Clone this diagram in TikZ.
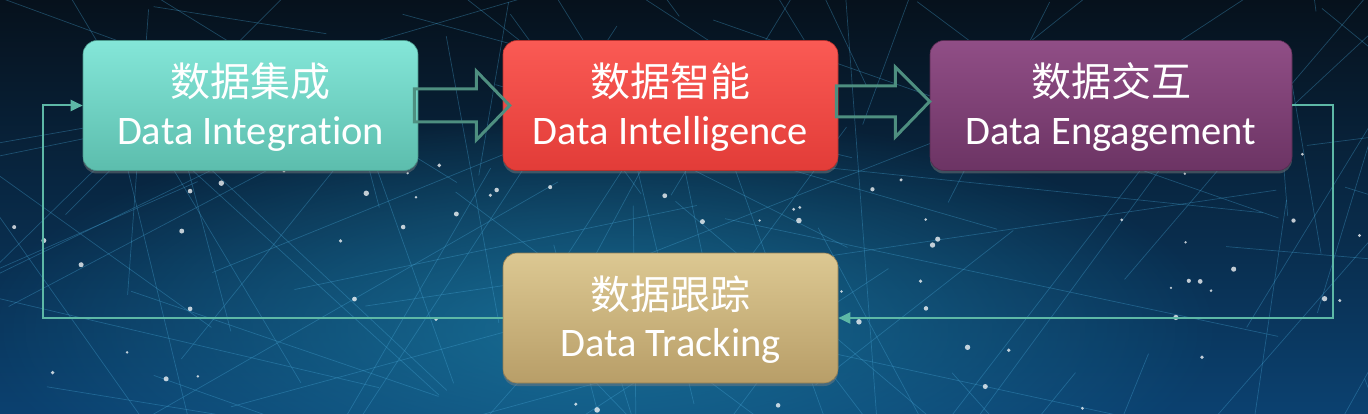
\documentclass[tikz,border=0pt]{standalone}
\usepackage{fontspec}
\setmainfont[RawFeature={-liga}]{Carlito}
\newfontfamily\cjk{Noto Sans CJK SC}
\usetikzlibrary{arrows.meta,calc,shadows,fadings}
\tikzfading[name=myglow, inner color=transparent!0, outer color=transparent!100]
\definecolor{bgtop}{HTML}{06111C}
\definecolor{bgbot}{HTML}{0B4170}
\definecolor{glow}{HTML}{1C7FA6}
\definecolor{netc}{HTML}{46A6D6}
\definecolor{arrowc}{HTML}{4E8F80}
\definecolor{fbc}{HTML}{5DB8A6}
\definecolor{tealT}{HTML}{84E6D8}
\definecolor{tealB}{HTML}{5CBDAD}
\definecolor{redT}{HTML}{FA5A54}
\definecolor{redB}{HTML}{E23C38}
\definecolor{purT}{HTML}{904E86}
\definecolor{purB}{HTML}{6C3464}
\definecolor{tanT}{HTML}{DCC892}
\definecolor{tanB}{HTML}{B89E68}
\tikzset{
  box/.style={rounded corners=14pt, minimum height=130pt, minimum width=335pt, inner sep=0pt, line width=0.6pt,
    drop shadow={shadow xshift=0pt, shadow yshift=-3pt, opacity=0.45}},
  tealbox/.style={box, top color=tealT, bottom color=tealB, draw=tealB!80!black},
  redbox/.style={box, top color=redT, bottom color=redB, draw=redB!80!black},
  purbox/.style={box, top color=purT, bottom color=purB, draw=purB!80!black},
  tanbox/.style={box, top color=tanT, bottom color=tanB, draw=tanB!80!black},
  cn/.style={anchor=base, text=white, inner sep=0pt, font=\cjk\fontsize{40}{44}\selectfont},
  en/.style={anchor=base, text=white, inner sep=0pt, font=\fontsize{40.5}{44}\selectfont},
  barrow/.style={draw=arrowc, line width=3pt, line join=miter},
  fb/.style={draw=fbc, line width=2pt, -{Triangle[length=12pt,width=11pt]}},
  netline/.style={draw=netc, line width=0.7pt, opacity=0.35},
}
\begin{document}
\begin{tikzpicture}[x=1pt,y=-1pt]
\useasboundingbox (0,0) rectangle (1368,414);
% background
\begin{scope}
\clip (0,0) rectangle (1368,414);
\shade[top color=bgtop, bottom color=bgbot] (0,0) rectangle (1368,414);
\fill[glow, path fading=myglow, opacity=0.75] (600,330) ellipse (620pt and 220pt);
\pgfmathsetseed{31}
\foreach \i in {1,...,110}{
  \pgfmathsetmacro\xa{rnd*1500-60}
  \pgfmathsetmacro\ya{rnd*520-40}
  \pgfmathsetmacro\ang{rnd*360}
  \pgfmathsetmacro\len{150+rnd*450}
  \draw[netline] (\xa,\ya) -- ++(\ang:\len);
}
\foreach \i in {1,...,75}{
  \pgfmathsetmacro\xa{rnd*1368}
  \pgfmathsetmacro\ya{140+rnd*274}
  \pgfmathsetmacro\rr{1.2+rnd*1.6}
  \fill[white, opacity=0.75] (\xa,\ya) circle (\rr pt);
}
\end{scope}
% boxes
\node[tealbox] (b1) at (250.5,105.5) {};
\node[redbox]  (b2) at (670.5,105.5) {};
\node[purbox, minimum width=362pt] (b3) at (1111,105.5) {};
\node[tanbox]  (b4) at (670.5,318) {};
% texts
\node[cn] (c1) at ($(b1.center)+(0,-9)$) {数据集成};
\node[en] (e1) at ($(b1.center)+(0,39.5)$) {Data Integration};
\node[cn] (c2) at ($(b2.center)+(0,-9)$) {数据智能};
\node[en] (e2) at ($(b2.center)+(0,39.5)$) {Data Intelligence};
\node[cn] (c3) at ($(b3.center)+(0,-9)$) {数据交互};
\node[en] (e3) at ($(b3.center)+(0,39.5)$) {Data Engagement};
\node[cn] (c4) at ($(b4.center)+(0,-9)$) {数据跟踪};
\node[en] (e4) at ($(b4.center)+(0,38)$) {Data Tracking};
% block arrows
\draw[barrow] ($(b1.east)+(-4,-16.5)$) -- ++(62,0) -- ++(0,-18) -- ($(b2.west)+(7,0)$)
  -- ($(b1.east)+(58,34.5)$) -- ++(0,-18) -- ++(-62,0) -- cycle;
\draw[barrow] ($(b2.east)+(-2,-19.5)$) -- ++(59,0) -- ++(0,-19) -- ($(b3.west)+(0,-4)$)
  -- ($(b2.east)+(57,31.5)$) -- ++(0,-20) -- ++(-59,0) -- cycle;
% feedback connectors
\draw[fb] (b3.east) -- ++(41,0) |- (b4.east);
\draw[fb] (b4.west) -- ++(-460,0) |- (b1.west);
\end{tikzpicture}
\end{document}
